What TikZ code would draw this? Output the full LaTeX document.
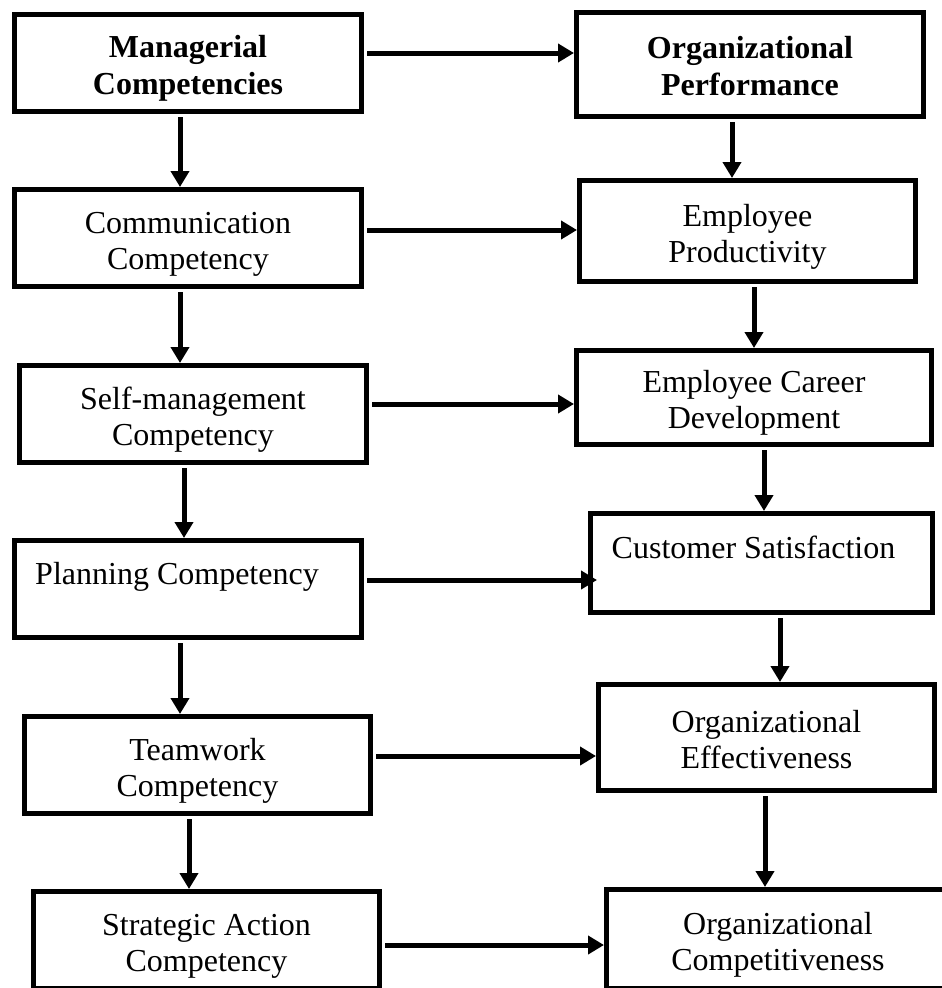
\documentclass[tikz,border=0pt]{standalone}
\usepackage{fontspec}
\setmainfont{Liberation Serif}
\usetikzlibrary{arrows.meta}
\begin{document}
\begin{tikzpicture}[x=1pt, y=-1pt, line width=5pt,
  comp box/.style={rectangle,draw,inner sep=0pt,align=center,text height=62pt,text depth=0pt,font=\fontsize{32}{36}\selectfont},
  link/.style={-{Triangle[length=16pt,width=18pt]},line width=5pt,shorten <=3pt}]
\useasboundingbox (0,0) rectangle (942,988);
\clip (0,0) rectangle (942,988);
\begin{scope}[every node/.style={comp box}]
\node[minimum width=347pt,minimum height=97pt,font=\fontsize{32}{37}\selectfont\bfseries] (m0) at (188,63) {Managerial\\Competencies};
\node[minimum width=347pt,minimum height=97pt] (m1) at (188,238) {Communication\\Competency};
\node[minimum width=347pt,minimum height=97pt] (m2) at (193,414) {Self-management\\Competency};
\node[minimum width=347pt,minimum height=97pt] (m3) at (188,589) {Planning Competency\hspace*{22pt}\\~};
\node[minimum width=346pt,minimum height=97pt] (m4) at (197.5,765) {Teamwork\\Competency};
\node[minimum width=346pt,minimum height=97pt] (m5) at (206.5,940) {Strategic Action\\Competency};
\node[minimum width=347pt,minimum height=104pt,font=\fontsize{32}{37}\selectfont\bfseries] (p0) at (750,64.5) {Organizational\\Performance};
\node[minimum width=336pt,minimum height=101pt] (p1) at (747.5,231) {Employee\\Productivity};
\node[minimum width=355pt,minimum height=94pt] (p2) at (754,397.5) {Employee Career\\Development};
\node[minimum width=342pt,minimum height=99pt] (p3) at (761.5,563) {Customer Satisfaction\hspace*{16pt}\\~};
\node[minimum width=336pt,minimum height=106pt] (p4) at (766.5,737.5) {Organizational\\Effectiveness};
\node[minimum width=343pt,minimum height=99pt] (p5) at (778,939) {Organizational\\Competitiveness};
\end{scope}
\begin{scope}[shorten <=4pt]
\draw[link] ([xshift=-8pt]m0.south) -- ([xshift=-8pt]m0.south |- m1.north);
\draw[link] ([xshift=-8pt]m1.south) -- ([xshift=-8pt]m1.south |- m2.north);
\draw[link] ([xshift=-9pt]m2.south) -- ([xshift=-9pt]m2.south |- m3.north);
\draw[link] ([xshift=-8pt]m3.south) -- ([xshift=-8pt]m3.south |- m4.north);
\draw[link] ([xshift=-8.5pt]m4.south) -- ([xshift=-8.5pt]m4.south |- m5.north);
\draw[link] ([xshift=-18pt]p0.south) -- ([xshift=-18pt]p0.south |- p1.north);
\draw[link] ([xshift=6.5pt]p1.south) -- ([xshift=6.5pt]p1.south |- p2.north);
\draw[link] ([xshift=10pt]p2.south) -- ([xshift=10pt]p2.south |- p3.north);
\draw[link] ([xshift=18.5pt]p3.south) -- ([xshift=18.5pt]p3.south |- p4.north);
\draw[link] ([xshift=-1.5pt]p4.south) -- ([xshift=-1.5pt]p4.south |- p5.north);
\end{scope}
\begin{scope}
\draw[link] ([yshift=10pt]m0.east) -- ([yshift=10pt]m0.east -| p0.west);
\draw[link] ([yshift=8pt]m1.east) -- ([yshift=8pt]m1.east -| p1.west);
\draw[link] ([yshift=10pt]m2.east) -- ([yshift=10pt]m2.east -| p2.west);
\draw[link,shorten >=-9pt] ([yshift=9pt]m3.east) -- ([yshift=9pt]m3.east -| p3.west);
\draw[link] ([yshift=9pt]m4.east) -- ([yshift=9pt]m4.east -| p4.west);
\draw[link] ([yshift=-5pt]m5.east) -- ([yshift=-5pt]m5.east -| p5.west);
\end{scope}
\end{tikzpicture}
\end{document}
